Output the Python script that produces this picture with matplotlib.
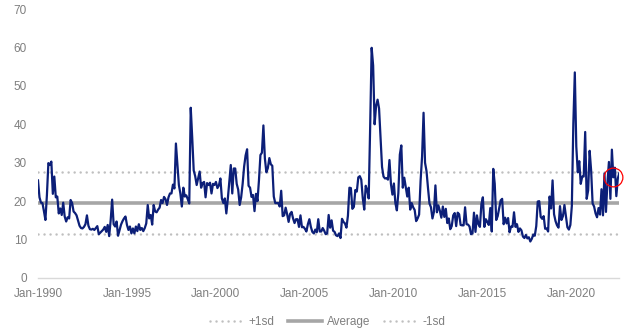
import numpy as np
import pandas as pd
import matplotlib
matplotlib.use('Agg')
import matplotlib.pyplot as plt

plt.rcParams['font.family'] = ['Liberation Sans', 'DejaVu Sans']

# VIX month-end closes, Jan-1990 onwards
vix_1990s = [
    25.4, 21.0, 19.6, 19.5, 17.4, 15.1, 21.5, 29.9, 29.4, 30.3, 21.9, 26.4,
    21.0, 21.2, 16.8, 18.1, 16.4, 19.6, 16.0, 14.7, 15.8, 15.5, 20.3, 19.5,
    17.3, 16.9, 16.3, 15.0, 13.6, 13.0, 12.9, 13.3, 14.0, 16.3, 13.6, 12.7,
    12.6, 12.8, 12.5, 13.0, 13.5, 11.4, 11.8, 12.2, 12.6, 13.3, 12.0, 13.8,
    10.9, 15.0, 20.4, 14.0, 13.4, 14.7, 11.0, 12.5, 13.9, 14.8, 15.5, 16.0,
    13.8, 12.5, 13.4, 11.6, 12.9, 11.6, 13.4, 12.2, 14.0, 12.5, 13.0, 12.2,
    13.0, 14.2, 19.0, 15.5, 16.4, 13.9, 19.0, 17.3, 17.1, 17.8, 18.3, 20.3,
    19.5, 21.1, 20.5, 19.0, 21.0, 22.0, 22.0, 24.3, 23.3, 35.0, 29.5, 24.2,
    22.0, 18.6, 23.5, 21.2, 21.5, 20.5, 19.4, 44.3, 36.5, 28.0, 26.5, 24.2,
    25.9, 27.7, 23.5, 24.7, 25.0, 21.0, 24.7, 24.2, 24.8, 22.0, 24.5, 24.2,
]
vix_2000s = [
    25.0, 23.4, 24.1, 25.9, 20.7, 19.5, 20.7, 16.8, 20.6, 25.0, 29.4, 22.0,
    28.5, 28.5, 24.5, 23.0, 19.0, 21.0, 24.5, 29.0, 31.9, 33.5, 24.0, 23.5,
    21.1, 21.6, 17.4, 21.9, 20.0, 25.4, 32.0, 32.6, 39.7, 31.1, 27.5, 28.6,
    31.2, 29.6, 29.2, 21.2, 19.5, 19.5, 19.5, 18.6, 22.7, 16.1, 16.3, 18.3,
    16.6, 14.6, 16.7, 17.2, 15.5, 14.3, 15.3, 15.3, 13.3, 16.3, 13.2, 13.3,
    12.8, 12.1, 14.0, 15.3, 13.3, 12.0, 11.6, 12.6, 11.9, 15.3, 12.1, 12.1,
    13.0, 12.3, 11.4, 11.6, 16.4, 13.1, 15.0, 12.3, 12.0, 11.1, 10.9, 11.6,
    10.4, 15.4, 14.6, 14.2, 13.1, 16.2, 23.5, 23.4, 18.0, 18.5, 22.9, 22.5,
    26.2, 26.5, 25.6, 20.8, 17.8, 24.0, 22.9, 20.7, 39.4, 59.9, 55.3, 40.0,
    44.8, 46.4, 44.1, 36.5, 28.9, 26.4, 25.9, 26.0, 25.6, 30.7, 24.5, 21.7,
]
vix_2010s = [
    24.6, 19.5, 17.6, 22.1, 32.1, 34.5, 23.5, 26.1, 23.7, 21.2, 23.5, 17.8,
    19.5, 18.4, 17.7, 14.8, 15.5, 16.5, 25.3, 31.6, 43.0, 30.0, 27.8, 23.4,
    19.4, 18.4, 15.5, 17.2, 24.1, 17.1, 18.9, 17.5, 15.7, 18.6, 15.9, 18.0,
    14.3, 15.5, 12.7, 13.5, 16.3, 16.9, 13.5, 17.0, 16.6, 13.8, 13.7, 13.7,
    18.4, 14.0, 13.9, 13.4, 11.4, 11.6, 17.0, 12.0, 16.3, 14.0, 13.3, 19.2,
    21.0, 13.3, 15.3, 14.6, 13.8, 18.2, 12.1, 28.4, 24.5, 15.1, 16.1, 18.2,
    20.2, 20.6, 14.0, 15.7, 14.2, 15.6, 11.9, 13.4, 13.3, 17.1, 13.3, 14.0,
    12.0, 12.9, 12.4, 10.8, 10.4, 11.2, 10.3, 10.6, 9.5, 10.2, 11.3, 11.0,
    13.5, 19.9, 20.0, 15.9, 15.4, 16.1, 12.8, 12.9, 12.1, 21.2, 18.1, 25.4,
    16.6, 14.8, 13.7, 13.1, 18.7, 15.1, 16.1, 19.0, 16.2, 13.2, 12.6, 13.8,
]
vix_2020s = [
    18.8, 40.1, 53.5, 34.2, 27.5, 30.4, 24.5, 26.4, 26.4, 38.0, 20.6, 22.8,
    33.1, 28.0, 19.4, 18.6, 16.8, 15.8, 18.2, 16.5, 23.1, 16.3, 27.2, 17.2,
    24.8, 30.2, 20.6, 33.4, 26.2, 28.7, 21.3, 25.9, 27.3,
]

# long-run average and one standard deviation band
avg = 19.5
sd = 8.0

vix = np.array(vix_1990s + vix_2000s + vix_2010s + vix_2020s)
months = pd.date_range('1990-01-01', periods=len(vix), freq='MS')
x = np.arange(len(vix))

fig = plt.figure(figsize=(6.32, 3.34), dpi=100)
ax = fig.add_axes([38 / 632, 1 - 278 / 334, 581.3 / 632, 269 / 334])

dotted = dict(color='#bfbfbf', lw=1.8, linestyle=(0, (0.01, 2.4)),
              dash_capstyle='round')
ax.plot(x, np.full(len(x), avg + sd), label='+1sd', **dotted)
ax.plot(x, np.full(len(x), avg), color='#a6a6a6', lw=2.6, label='Average')
ax.plot(x, np.full(len(x), avg - sd), label='-1sd', **dotted)
ax.plot(x, vix, color='#0c1f78', lw=1.6, zorder=3)

# highlight the latest readings
ax.plot(x[-5], vix[-5], marker='o', ms=13.5, mfc='none', mec='#ff0000',
        mew=0.9, zorder=4, clip_on=False)

ax.set_xlim(0, len(vix) - 1)
ax.set_ylim(0, 70)
ticks = [i for i, d in enumerate(months) if d.month == 1 and d.year % 5 == 0]
ax.set_xticks(ticks, [f'{months[i]:%b-%Y}' for i in ticks])
ax.set_yticks(range(0, 71, 10))
ax.tick_params(length=0, labelsize=8.5, colors='#7f7f7f')
ax.tick_params(axis='y', pad=8)
ax.tick_params(axis='x', pad=7.5)
for side in ['top', 'right', 'left']:
    ax.spines[side].set_visible(False)
ax.spines['bottom'].set_color('#d9d9d9')
ax.spines['bottom'].set_linewidth(1)

fig.legend(loc='center', bbox_to_anchor=(327.5 / 632, 1 - 321.7 / 334),
           ncol=3, frameon=False, fontsize=8.5, labelcolor='#7f7f7f',
           handlelength=2.9, handletextpad=0.35, columnspacing=1.2)

fig.savefig('out.png', dpi=100)
